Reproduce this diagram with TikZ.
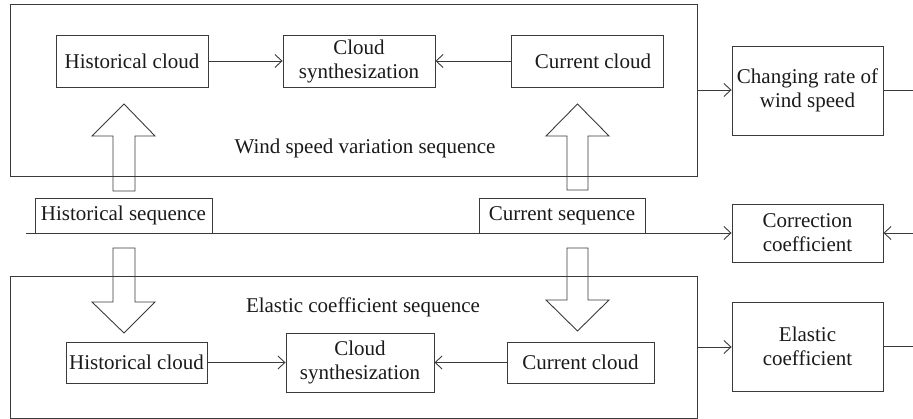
\documentclass[tikz,border=0pt]{standalone}
\usepackage{fontspec}
\setmainfont{Liberation Serif}
\usetikzlibrary{arrows.meta}
\definecolor{lc}{HTML}{3A3A3A}
\definecolor{tc}{HTML}{1A1A1A}
\begin{document}
\begin{tikzpicture}[x=1pt,y=-1pt,
  box/.style={draw=lc, line width=0.9pt, inner sep=0pt, align=center,
    font=\fontsize{21}{24}\selectfont, text=tc},
  frame/.style={draw=lc, line width=0.9pt, inner sep=0pt},
  lab/.style={font=\fontsize{21}{24}\selectfont, text=tc, inner sep=0pt},
  con/.style={draw=lc, line width=0.9pt, -{Straight Barb[length=7pt,width=13pt,line width=0.9pt]}},
  plain/.style={draw=lc, line width=0.9pt},
  hollow/.style={draw=lc, line width=0.9pt, line join=miter}
]
\useasboundingbox (0,0) rectangle (913,419);

% big frames
\node[frame, minimum width=687pt, minimum height=172pt] (bigA) at (353.5,90) {};
\node[frame, minimum width=687pt, minimum height=142pt] (bigB) at (353.5,347) {};

% top row
\node[box, minimum width=152pt, minimum height=52pt] (h1) at (132,61) {Historical cloud};
\node[box, minimum width=152pt, minimum height=52pt] (s1) at (359,61) {Cloud\\synthesization};
\node[box, minimum width=152pt, minimum height=52pt] (c1) at (587,61) {\hspace*{12pt}Current cloud};
\node[lab] (wsv) at (365,148) {Wind speed variation sequence};

% right column
\node[box, minimum width=151pt, minimum height=89pt] (rate) at (807.5,90.5) {Changing rate of\\wind speed};
\node[box, minimum width=151pt, minimum height=58pt] (corr) at (807.5,233) {Correction\\coefficient};
\node[box, minimum width=151pt, minimum height=89pt] (elas) at (807.5,346.5) {Elastic\\coefficient};

% sequences
\node[box, minimum width=177pt, minimum height=35pt] (hs) at (123.5,215.5) {Historical sequence};
\node[box, minimum width=166pt, minimum height=35pt] (cs) at (562,215.5) {Current sequence};

% bottom row
\node[lab] (ecs) at (363,307) {Elastic coefficient sequence};
\node[box, minimum width=141pt, minimum height=41pt] (h2) at (136.5,362.5) {Historical cloud};
\node[box, minimum width=148pt, minimum height=59pt] (s2) at (360,362.5) {Cloud\\synthesization};
\node[box, minimum width=147pt, minimum height=41pt] (c2) at (580.5,362.5) {Current cloud};

% free ends
\coordinate (L0) at (26,233);
\coordinate (R1) at (913,90.5);
\coordinate (R2) at (913,233);
\coordinate (R3) at (913,346.5);

% connectors
\draw[con] (h1) -- (s1);
\draw[con] (c1) -- (s1);
\draw[con] (h2) -- (s2);
\draw[con] (c2) -- (s2);
\draw[con] (bigA.east) -- (bigA.east -| rate.west);
\draw[plain] (rate.east) -- (R1);
\draw[con] (L0) -- (corr.west);
\draw[con] (R2) -- (corr.east);
\draw[con] (bigB.east) -- (bigB.east -| elas.west);
\draw[plain] (elas.east) -- (R3);

% hollow arrows (up)
\draw[hollow] (113,191) -- (113,136) -- (92,136) -- (124,104) -- (155,136) -- (135,136) -- (135,191) -- cycle;
\draw[hollow] (567,190) -- (567,136) -- (546,136) -- (577.5,104) -- (609,136) -- (588,136) -- (588,190) -- cycle;
% hollow arrows (down)
\draw[hollow] (113,248) -- (113,302) -- (92,302) -- (124,333) -- (155,302) -- (135,302) -- (135,248) -- cycle;
\draw[hollow] (567,248) -- (567,300) -- (546,300) -- (577.5,331) -- (609,300) -- (588,300) -- (588,248) -- cycle;
\end{tikzpicture}
\end{document}
